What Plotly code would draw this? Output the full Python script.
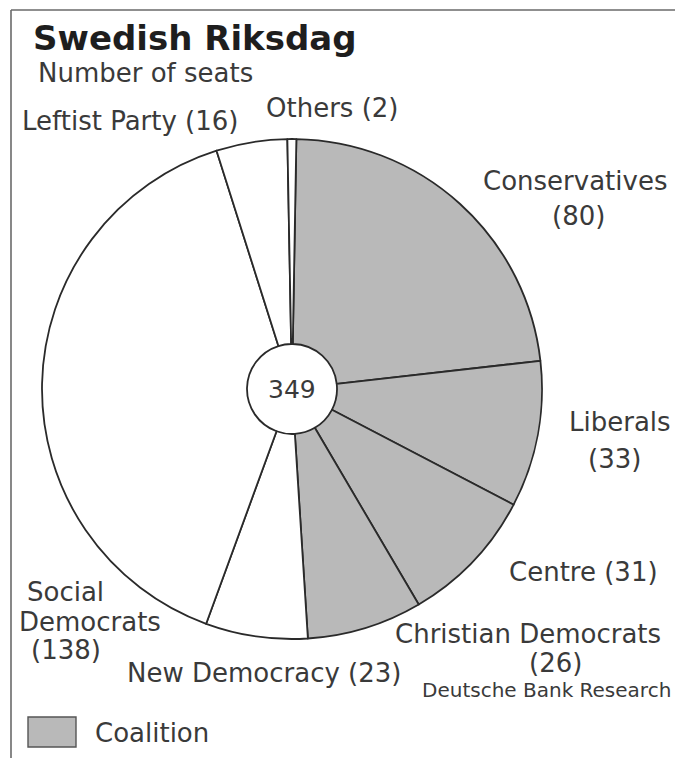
import plotly.graph_objects as go

# ---- data ----
parties = ["Conservatives", "Liberals", "Centre", "Christian Democrats",
           "New Democracy", "Social Democrats", "Leftist Party", "Others"]
seats = [80, 33, 31, 26, 23, 138, 16, 2]
coalition = [True, True, True, True, False, False, False, False]
total_seats = sum(seats)

# ---- styles / layout ----
W, H = 675, 758
GRAY = "#b9b9b9"
LINE = "#2a2a2a"
TXT = "#3a3a3a"
FONT = "DejaVu Sans"
LS = 26  # label font size

cx, cy, R = 292, 389, 250  # pie centre/radius in px


def px(x):
    return x / W


def py(y):
    return 1 - y / H


colors = [GRAY if c else "white" for c in coalition]

fig = go.Figure(go.Pie(
    labels=parties,
    values=seats,
    sort=False,
    direction="clockwise",
    rotation=1,
    hole=0.18,
    textinfo="none",
    hoverinfo="label+value",
    marker=dict(colors=colors, line=dict(color=LINE, width=1.8)),
    domain=dict(x=[px(cx - R), px(cx + R)], y=[py(cy + R), py(cy - R)]),
    showlegend=False,
))

# label placement (line split + positions in px), text built from data
label_pos = {
    "Conservatives": [(0, 575, 181), (1, 578, 216)],
    "Liberals": [(0, 620, 422), (1, 614, 459)],
    "Centre": [(2, 583, 572)],
    "Christian Democrats": [(0, 528, 634), (1, 555, 663)],
    "New Democracy": [(2, 264, 673)],
    "Social Democrats": [("Social", 65, 592), ("Democrats", 90, 622), (1, 66, 650)],
    "Leftist Party": [(2, 130, 121)],
    "Others": [(2, 332, 108)],
}

annotations = []
for name, val in zip(parties, seats):
    for key, x, y in label_pos[name]:
        if key == 0:
            t = name
        elif key == 1:
            t = f"({val})"
        elif key == 2:
            t = f"{name} ({val})"
        else:
            t = key
        annotations.append(dict(text=t, x=px(x), y=py(y), xref="paper", yref="paper",
                                xanchor="center", yanchor="middle", showarrow=False,
                                font=dict(family=FONT, size=LS, color=TXT)))

# centre total
annotations.append(dict(text=str(total_seats), x=px(cx), y=py(cy), xref="paper", yref="paper",
                        xanchor="center", yanchor="middle", showarrow=False,
                        font=dict(family=FONT, size=25, color=TXT)))
# title & subtitle
annotations.append(dict(text="<b>Swedish Riksdag</b>", x=px(31), y=py(38), xref="paper", yref="paper",
                        xanchor="left", yanchor="middle", showarrow=False,
                        font=dict(family=FONT, size=34, color="#1e1e1e")))
annotations.append(dict(text="Number of seats", x=px(36), y=py(73), xref="paper", yref="paper",
                        xanchor="left", yanchor="middle", showarrow=False,
                        font=dict(family=FONT, size=26, color=TXT)))
# source
annotations.append(dict(text="Deutsche Bank Research", x=px(673), y=py(690), xref="paper", yref="paper",
                        xanchor="right", yanchor="middle", showarrow=False,
                        font=dict(family=FONT, size=20, color=TXT)))
# legend text
annotations.append(dict(text="Coalition", x=px(93), y=py(733), xref="paper", yref="paper",
                        xanchor="left", yanchor="middle", showarrow=False,
                        font=dict(family=FONT, size=LS, color=TXT)))

shapes = [
    # frame (top and left)
    dict(type="line", xref="paper", yref="paper", x0=px(11), x1=1, y0=py(10), y1=py(10),
         line=dict(color="#6a6a6a", width=1.6)),
    dict(type="line", xref="paper", yref="paper", x0=px(11), x1=px(11), y0=py(10), y1=0,
         line=dict(color="#6a6a6a", width=1.6)),
    # legend swatch
    dict(type="rect", xref="paper", yref="paper", x0=px(28), x1=px(76), y0=py(747), y1=py(717),
         fillcolor=GRAY, line=dict(color="#555555", width=1.4)),
]

fig.update_layout(
    width=W, height=H, autosize=False,
    margin=dict(l=0, r=0, t=0, b=0),
    paper_bgcolor="white", plot_bgcolor="white",
    annotations=annotations, shapes=shapes,
)

fig.write_html("out.html")
